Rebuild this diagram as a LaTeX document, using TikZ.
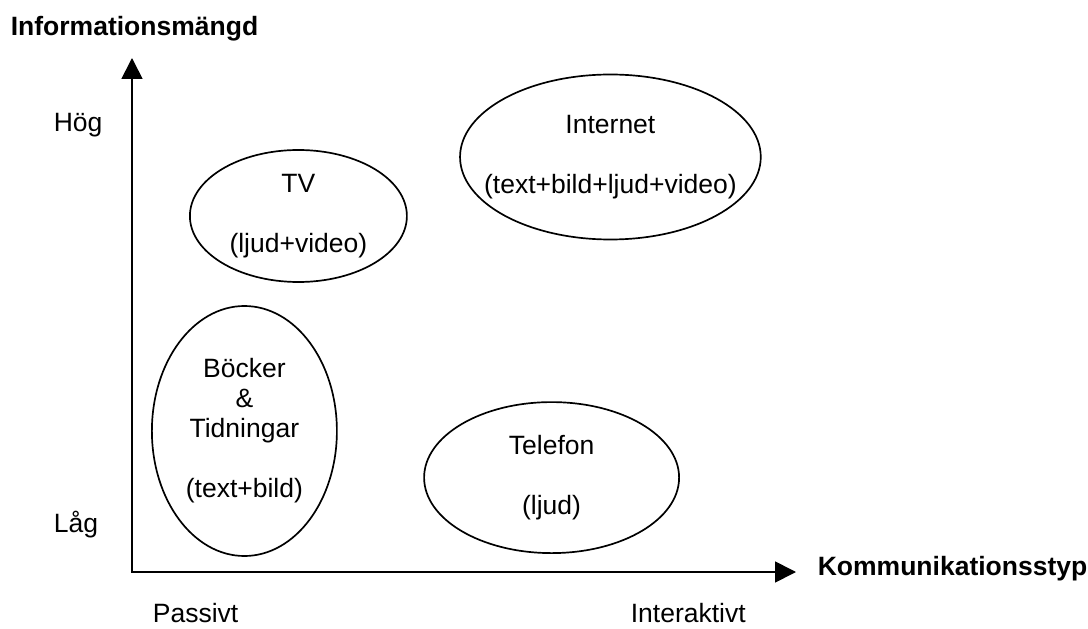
\documentclass[tikz,border=0pt]{standalone}
\usepackage{fontspec}
\setmainfont{Liberation Sans}
\usetikzlibrary{arrows.meta, shapes.geometric}
\tikzset{
  every picture/.style={font=\fontsize{18.85pt}{21.34pt}\selectfont, line width=1.2pt},
  medium/.style={draw, ellipse, align=center, inner sep=-0.5cm},
  axis/.style={{Triangle[length=5.2mm, width=5.2mm]}-{Triangle[length=5.2mm, width=5.2mm]}, line join=miter},
  title/.style={font=\fontsize{18.85pt}{21.34pt}\selectfont\bfseries, anchor=base west, inner sep=0pt},
  note/.style={anchor=base west, inner sep=0pt},
}

\begin{document}
\begin{tikzpicture}
  \useasboundingbox (-3.3,-1.4) rectangle (23.9,14.3);
  % axes
  \coordinate (origin) at (0,0);
  \coordinate (ytip) at (0,12.85);
  \coordinate (xtip) at (16.6,0);
  \draw[axis] (ytip) -- (origin) -- (xtip);
  \node[title] (ylabel) at (-3.05,13.4) {Informationsmängd};
  \node[title] (xlabel) at (17.125,-0.075) {Kommunikationsstyp};
  \node[note] (high) at (-1.975,11.0) {Hög};
  \node[note] (low) at (-1.975,1.0) {Låg};
  \node[note] (passive) at (0.5,-1.25) {Passivt};
  \node[note] (active) at (12.45,-1.25) {Interaktivt};
  % media
  \node[medium, minimum width=5.425cm, minimum height=3.3cm] (tv) at (4.16,8.9) {TV\\[21.34pt](ljud+video)};
  \node[medium, minimum width=7.375cm, minimum height=4.125cm] (internet) at (11.96,10.375) {Internet\\[21.34pt](text+bild+ljud+video)};
  \node[medium, minimum width=4.625cm, minimum height=6.25cm] (books) at (2.81,3.525) {Böcker\\\&\\Tidningar\\[21.34pt](text+bild)};
  \node[medium, minimum width=6.375cm, minimum height=3.775cm] (phone) at (10.49,2.36) {Telefon\\[21.34pt](ljud)};
\end{tikzpicture}
\end{document}
